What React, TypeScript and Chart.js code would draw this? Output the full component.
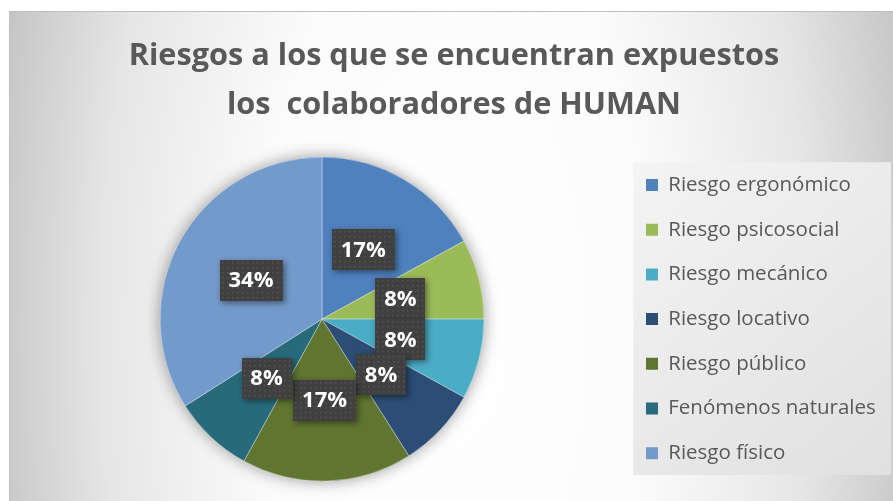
import React, { useEffect, useRef } from 'react';
import { Chart, registerables } from 'chart.js';

Chart.register(...registerables);

const categories = [
  'Riesgo ergonómico',
  'Riesgo psicosocial',
  'Riesgo mecánico',
  'Riesgo locativo',
  'Riesgo público',
  'Fenómenos naturales',
  'Riesgo físico',
];
const percentages = [17, 8, 8, 8, 17, 8, 34];
const sliceColors = ['#4F81BD', '#9BBB59', '#4BACC6', '#2C4D75', '#5F7530', '#276A7C', '#729ACA'];
const titleLines = ['Riesgos a los que se encuentran expuestos', 'los  colaboradores de HUMAN'];

const FONT = '"Open Sans", "Noto Sans", sans-serif';

export default function App() {
  const ref = useRef<HTMLCanvasElement>(null);

  useEffect(() => {
    const canvas = ref.current;
    if (!canvas) return;
    const W = 893;
    const H = 501;
    const legendFontSize = 20.5;
    const legendPad = 24.2;
    const legendBox = 12;
    const m = document.createElement('canvas').getContext('2d')!;
    m.font = `${legendFontSize}px ${FONT}`;
    const maxText = Math.max(...categories.map((c) => m.measureText(c).width));
    const legendWidth = legendPad + legendBox + legendFontSize / 2 + maxText + 10;
    const legendLeft = 621.8;
    const centerX = 322;
    const padLeft = 2 * centerX - legendLeft;
    const padRight = Math.max(0, W - legendLeft - legendWidth);

    const bgPlugin = {
      id: 'bgPlugin',
      beforeDraw(chart: any) {
        const ctx = chart.ctx as CanvasRenderingContext2D;
        ctx.save();
        ctx.fillStyle = '#ffffff';
        ctx.fillRect(0, 0, W, H);
        ctx.save();
        ctx.beginPath();
        ctx.rect(9, 11, W - 9, H - 11);
        ctx.clip();
        ctx.translate(455, 330);
        ctx.scale(1, 2.2);
        const g = ctx.createRadialGradient(0, 0, 0, 0, 0, 470);
        g.addColorStop(0, '#ffffff');
        g.addColorStop(0.42, '#fbfbfb');
        g.addColorStop(0.75, '#e6e6e6');
        g.addColorStop(1, '#c5c5c5');
        ctx.fillStyle = g;
        ctx.fillRect(-500, -200, 1000, 400);
        ctx.restore();
        ctx.strokeStyle = '#c0c0c0';
        ctx.lineWidth = 1;
        ctx.beginPath();
        ctx.moveTo(9.5, H);
        ctx.lineTo(9.5, 11.5);
        ctx.lineTo(W, 11.5);
        ctx.stroke();
        const lg = chart.legend;
        if (lg) {
          const x0 = lg.left + 11.5;
          const y0 = lg.top + 20;
          const x1 = W - 2;
          const y1 = lg.bottom - 21;
          const lgGrad = ctx.createLinearGradient(x0, y0, x1, y1);
          lgGrad.addColorStop(0, '#f4f4f4');
          lgGrad.addColorStop(1, '#e0e0e0');
          ctx.fillStyle = lgGrad;
          ctx.fillRect(x0, y0, x1 - x0, y1 - y0);
        }
        ctx.restore();
      },
    };

    const shadowPlugin = {
      id: 'pieShadow',
      beforeDatasetsDraw(chart: any) {
        const meta = chart.getDatasetMeta(0);
        const arc = meta.data[0];
        if (!arc) return;
        const ctx = chart.ctx as CanvasRenderingContext2D;
        ctx.save();
        ctx.shadowColor = 'rgba(0,0,0,0.4)';
        ctx.shadowBlur = 16;
        ctx.beginPath();
        ctx.arc(arc.x, arc.y, arc.outerRadius, 0, Math.PI * 2);
        ctx.fillStyle = '#bbbbbb';
        ctx.fill();
        ctx.restore();
      },
    };

    const labelPlugin = {
      id: 'boxLabels',
      afterDatasetsDraw(chart: any) {
        const ctx = chart.ctx as CanvasRenderingContext2D;
        const meta = chart.getDatasetMeta(0);
        meta.data.forEach((arc: any, i: number) => {
          const { x, y } = arc.tooltipPosition(false);
          const text = `${chart.data.datasets[0].data[i]}%`;
          ctx.save();
          ctx.font = `bold 22px ${FONT}`;
          const tw = ctx.measureText(text).width;
          const w = Math.round(tw + 18);
          const h = 41;
          const bx = Math.round(x - w / 2);
          const by = Math.round(y - h / 2);
          ctx.shadowColor = 'rgba(0,0,0,0.45)';
          ctx.shadowBlur = 6;
          ctx.shadowOffsetX = 2;
          ctx.shadowOffsetY = 2;
          ctx.fillStyle = '#404040';
          ctx.fillRect(bx, by, w, h);
          ctx.restore();
          ctx.save();
          ctx.beginPath();
          ctx.rect(bx, by, w, h);
          ctx.clip();
          ctx.fillStyle = '#545454';
          for (let yy = by + 2; yy < by + h; yy += 5) {
            for (let xx = bx + 2; xx < bx + w; xx += 5) {
              ctx.fillRect(xx, yy, 1.5, 1.5);
            }
          }
          ctx.restore();
          ctx.save();
          ctx.font = `bold 22px ${FONT}`;
          ctx.fillStyle = '#ffffff';
          ctx.textAlign = 'center';
          ctx.textBaseline = 'middle';
          ctx.fillText(text, x, y + 1);
          ctx.restore();
        });
      },
    };

    const baseGen = (Chart as any).overrides.doughnut.plugins.legend.labels.generateLabels;

    const chart = new Chart(canvas, {
      type: 'pie',
      data: {
        labels: categories,
        datasets: [
          {
            data: percentages,
            backgroundColor: sliceColors,
            borderColor: 'rgba(255,255,255,0.35)',
            borderWidth: 1,
            radius: 162,
          } as any,
        ],
      },
      options: {
        responsive: false,
        animation: false,
        layout: { padding: { left: padLeft, right: padRight, top: 0, bottom: 5 } },
        plugins: {
          title: {
            display: true,
            text: titleLines,
            color: '#595959',
            font: { family: FONT, size: 30.7, weight: 'bold', lineHeight: 1.6 },
            padding: { top: 32, bottom: 12 },
          },
          legend: {
            position: 'right',
            fullSize: false,
            labels: {
              boxWidth: legendBox,
              boxHeight: legendBox,
              padding: legendPad,
              color: '#595959',
              font: { family: FONT, size: legendFontSize },
              generateLabels: (c: any) =>
                baseGen(c).map((l: any) => ({ ...l, lineWidth: 0, fontColor: '#595959' })),
            },
          },
          tooltip: { enabled: false },
        },
      } as any,
      plugins: [bgPlugin, shadowPlugin, labelPlugin],
    });

    return () => chart.destroy();
  }, []);

  return (
    <div style={{ position: 'fixed', left: 0, top: 0, width: 893, height: 501, background: '#fff' }}>
      <canvas ref={ref} width={893} height={501} style={{ display: 'block' }} />
    </div>
  );
}
